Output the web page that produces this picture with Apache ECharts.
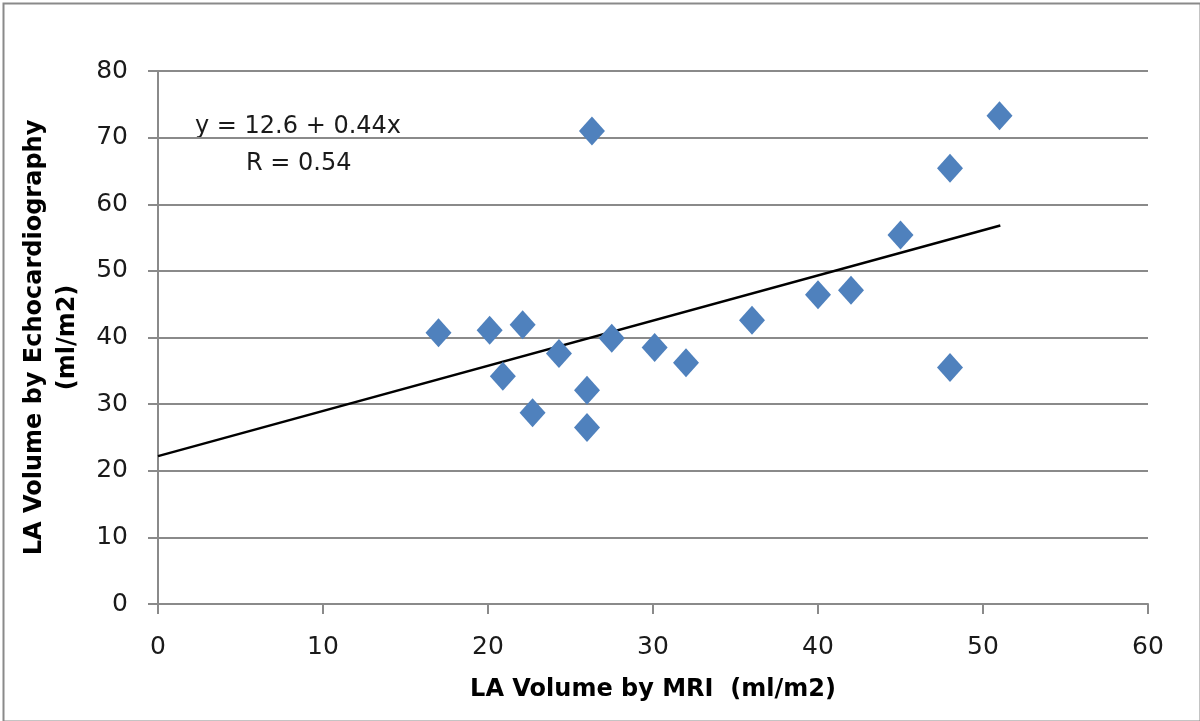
<!DOCTYPE html>
<html>
<head>
<meta charset="utf-8">
<script src="https://cdn.jsdelivr.net/npm/echarts@6/dist/echarts.min.js"></script>
<style>html,body{margin:0;padding:0;background:#fff}#c{width:1200px;height:721px}</style>
</head>
<body>
<div id="c"></div>
<script>
const mriX = [17, 20.1, 22.1, 20.9, 22.7, 24.3, 26.0, 26.0, 26.3, 27.5, 30.1, 32.0, 36.0, 40.0, 42.0, 45.0, 48.0, 48.0, 51.0];
const echoY = [40.7, 41.1, 41.9, 34.2, 28.7, 37.6, 32.1, 26.5, 71.0, 39.9, 38.5, 36.2, 42.6, 46.4, 47.1, 55.4, 65.4, 35.5, 73.3];
const trendX = [0, 51.05];
const trendY = [22.2, 56.8];
const xTicks = [0, 10, 20, 30, 40, 50, 60];
const yTicks = [0, 10, 20, 30, 40, 50, 60, 70, 80];
const xTitle = 'LA Volume by MRI  (ml/m2)';
const yTitle = 'LA Volume by Echocardiography\n(ml/m2)';
const eqText = 'y = 12.6 + 0.44x';
const rText = 'R = 0.54';

const font = '"DejaVu Sans", sans-serif';
const chart = echarts.init(document.getElementById('c'));
chart.setOption({
  animation: false,
  backgroundColor: '#fff',
  grid: { left: 158, right: 52, top: 71, bottom: 117, outerBoundsMode: 'none', containLabel: false },
  xAxis: {
    type: 'value', min: xTicks[0], max: xTicks[xTicks.length - 1], interval: 10,
    splitLine: { show: false },
    axisLine: { lineStyle: { color: '#8a8a8a', width: 2 } },
    axisTick: { show: true, length: 10, lineStyle: { color: '#8a8a8a', width: 2 } },
    axisLabel: { color: '#1a1a1a', fontSize: 25, fontFamily: font, margin: 31 },
    name: xTitle, nameLocation: 'middle', nameGap: 74,
    nameTextStyle: { color: '#000', fontSize: 24, fontWeight: 'bold', fontFamily: font }
  },
  yAxis: {
    type: 'value', min: yTicks[0], max: yTicks[yTicks.length - 1], interval: 10,
    splitLine: { show: true, lineStyle: { color: '#8a8a8a', width: 2 } },
    axisLine: { show: true, lineStyle: { color: '#8a8a8a', width: 2 } },
    axisTick: { show: true, length: 10, lineStyle: { color: '#8a8a8a', width: 2 } },
    axisLabel: { color: '#1a1a1a', fontSize: 25, fontFamily: font, margin: 30 },
    name: yTitle, nameLocation: 'middle', nameGap: 74, nameRotate: 90,
    nameTextStyle: { color: '#000', fontSize: 24, fontWeight: 'bold', fontFamily: font, lineHeight: 33, align: 'center' }
  },
  series: [
    {
      type: 'line', data: trendX.map((x, i) => [x, trendY[i]]),
      symbol: 'none', lineStyle: { color: '#000', width: 2.5 }, z: 3, silent: true
    },
    {
      type: 'scatter', data: mriX.map((x, i) => [x, echoY[i]]),
      symbol: 'diamond', symbolSize: [26, 29],
      itemStyle: { color: '#4F81BD', opacity: 1 }, z: 4
    }
  ],
  graphic: [
    { type: 'rect', left: 1, top: 1, shape: { width: 1197, height: 718 },
      style: { fill: 'none', stroke: '#8a8a8a', lineWidth: 2 }, silent: true },
    { type: 'text', left: 195, top: 115, style: { text: eqText, fill: '#1a1a1a', fontSize: 24, fontFamily: font } },
    { type: 'text', left: 246, top: 152, style: { text: rText, fill: '#1a1a1a', fontSize: 24, fontFamily: font } }
  ]
});
</script>
</body>
</html>
